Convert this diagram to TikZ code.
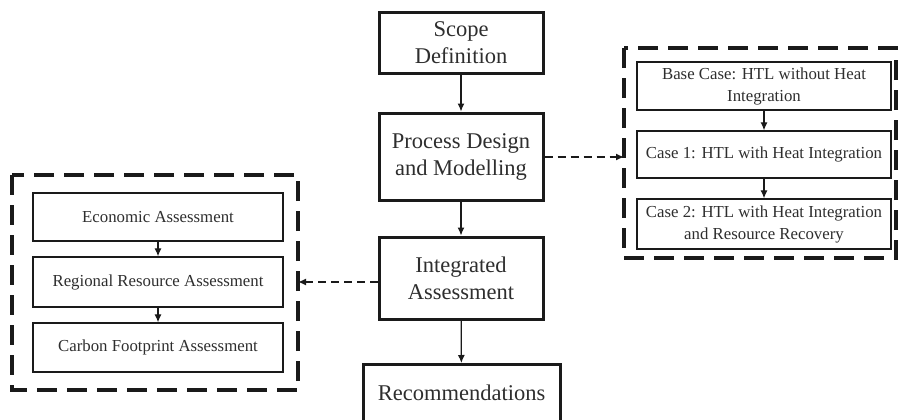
\documentclass[tikz,border=0pt]{standalone}
\usepackage{fontspec}
\setmainfont{Liberation Serif}
\usetikzlibrary{arrows.meta}
\definecolor{txt}{HTML}{2E2E2E}
\definecolor{ln}{HTML}{1A1A1A}
\tikzset{
  mainbox/.style={draw=ln, line width=3pt, text=txt, font=\fontsize{22.5}{27}\selectfont, align=center, inner sep=0pt, minimum width=164pt},
  subbox/.style={draw=ln, line width=1.3pt, text=txt, font=\fontsize{16.8}{22}\selectfont, align=center, inner sep=0pt},
  container/.style={draw=ln, line width=3.2pt, dash pattern=on 20pt off 10pt},
  flow/.style={draw=ln, line width=1.2pt, -{Latex[length=8pt,width=7pt]}},
  dflow/.style={draw=ln, line width=1.4pt, dash pattern=on 8pt off 5pt, -{Latex[length=8pt,width=7pt]}}
}
\begin{document}
\begin{tikzpicture}[x=1pt,y=-1pt]
\useasboundingbox (0,0) rectangle (899,420);
\clip (0,0) rectangle (899,420);
% main column
\node[mainbox, minimum height=60pt] (scope) at (461,43) {Scope\\Definition};
\node[mainbox, minimum height=87pt] (proc) at (461,156.5) {Process Design\\and Modelling};
\node[mainbox, minimum height=82pt] (integ) at (461,278) {Integrated\\Assessment};
\node[mainbox, minimum width=197pt, minimum height=70pt, anchor=north, text depth=0pt] (rec) at (461.5,363) {};
\node[text=txt, font=\fontsize{22.5}{27}\selectfont, inner sep=0pt] (rectxt) at (461.5,393) {Recommendations};
\draw[flow] (scope) -- (proc);
\draw[flow] (proc) -- (integ);
\draw[flow] (integ) -- (rec);
% right container
\draw[container] (624,48) rectangle (896,258);
\coordinate (rc) at (624,157);
\node[subbox, minimum width=254pt, minimum height=48pt] (base) at (764,86) {Base Case: HTL without Heat\\Integration};
\node[subbox, minimum width=254pt, minimum height=47pt] (c1) at (764,154.5) {Case 1: HTL with Heat Integration};
\node[subbox, minimum width=254pt, minimum height=50pt] (c2) at (764,224) {Case 2: HTL with Heat Integration\\and Resource Recovery};
\draw[flow] (base) -- (c1);
\draw[flow] (c1) -- (c2);
\draw[dflow] (proc.east |- rc) -- (rc);
% left container
\draw[container] (12,175) rectangle (298,390);
\coordinate (lc) at (298,282);
\node[subbox, minimum width=250pt, minimum height=48pt] (eco) at (158,217) {Economic Assessment};
\node[subbox, minimum width=250pt, minimum height=50pt] (reg) at (158,282) {Regional Resource Assessment};
\node[subbox, minimum width=250pt, minimum height=49pt] (carb) at (158,347.5) {Carbon Footprint Assessment};
\draw[flow] (eco) -- (reg);
\draw[flow] (reg) -- (carb);
\draw[dflow] (integ.west |- lc) -- (lc);
\end{tikzpicture}
\end{document}
